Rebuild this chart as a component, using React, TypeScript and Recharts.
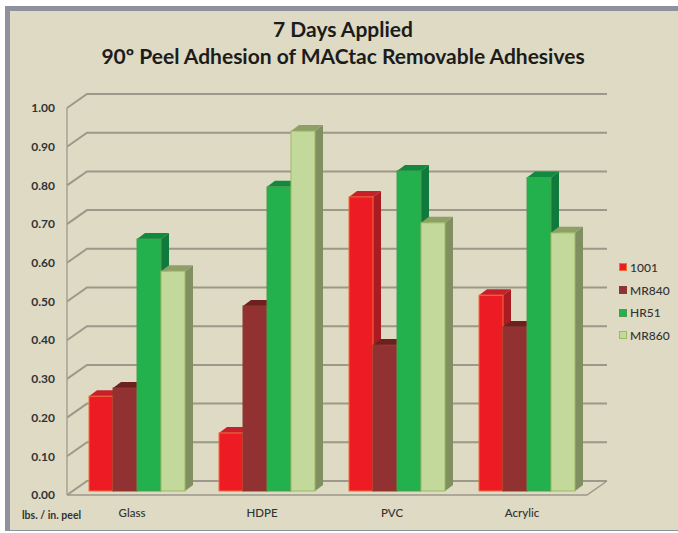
import React from "react";
import { BarChart, Bar, XAxis, YAxis, CartesianGrid, Legend } from "recharts";

const categories = ["Glass", "HDPE", "PVC", "Acrylic"];
const v1001 = [0.245, 0.15, 0.76, 0.506];
const vMR840 = [0.266, 0.478, 0.377, 0.424];
const vHR51 = [0.651, 0.786, 0.827, 0.81];
const vMR860 = [0.568, 0.93, 0.693, 0.667];
const yTicks = [0, 0.1, 0.2, 0.3, 0.4, 0.5, 0.6, 0.7, 0.8, 0.9, 1.0];
const titleLines = ["7 Days Applied", "90º Peel Adhesion of MACtac Removable Adhesives"];
const yUnit = "lbs. / in. peel";

const seriesDefs = [
  { key: "1001", values: v1001, front: "#ed1c24", top: "#c8202a", side: "#a81c22", edge: "#f0703c" },
  { key: "MR840", values: vMR840, front: "#923131", top: "#6e2020", side: "#6e2020", edge: "#8a3a30" },
  { key: "HR51", values: vHR51, front: "#22b14c", top: "#0f8a3e", side: "#0f7a3c", edge: "#4f9a50" },
  { key: "MR860", values: vMR860, front: "#c3d99b", top: "#8e9f68", side: "#7f8f60", edge: "#9cba62" },
];

const data = categories.map((name, i) => {
  const row: Record<string, any> = { name };
  seriesDefs.forEach((s) => (row[s.key] = s.values[i]));
  return row;
});

const DEPTH_X = 20;
const DEPTH_Y = 14;
const BAR_DX = 5;
const BAR_DY = -4;
const BAR_DEPTH_X = 8;
const BAR_DEPTH_Y = 6;
const FONT = "Lato, 'Open Sans', sans-serif";
const GRID = "#9c988a";
const BG = "#dedac3";

const Bar3D = (def: (typeof seriesDefs)[number]) => (props: any) => {
  const { x, y, width, height } = props;
  const l = x + BAR_DX;
  const t = y + BAR_DY;
  const r = l + width;
  const b = t + height;
  const dx = BAR_DEPTH_X;
  const dy = BAR_DEPTH_Y;
  return (
    <g>
      <polygon points={`${r},${t} ${r + dx},${t - dy} ${r + dx},${b - dy} ${r},${b}`} fill={def.side} />
      <polygon points={`${l},${t} ${l + dx},${t - dy} ${r + dx},${t - dy} ${r},${t}`} fill={def.top} />
      <rect x={l} y={t} width={width} height={height} fill={def.front} stroke={def.edge} strokeWidth={1} />
    </g>
  );
};

const GridLine = (props: any) => {
  const { x1, x2, y1 } = props;
  return (
    <g fill="none" stroke={GRID} strokeWidth={2} key={props.key}>
      <polyline points={`${x1},${y1} ${x1 + DEPTH_X},${y1 - DEPTH_Y} ${x2 + DEPTH_X},${y1 - DEPTH_Y}`} />
      {Math.abs(y1 - 495) < 1 ? <polyline strokeWidth={1.5} points={`${x1},${y1} ${x2},${y1} ${x2 + DEPTH_X},${y1 - DEPTH_Y}`} /> : null}
    </g>
  );
};

const LegendContent = () => (
  <div style={{ fontFamily: FONT, fontSize: 12, color: "#333", fontWeight: 500 }}>
    {seriesDefs.map((s) => (
      <div key={s.key} style={{ display: "flex", alignItems: "center", height: 22.7 }}>
        <span style={{ width: 8, height: 8, background: s.front, border: `1px solid ${s.edge}`, marginRight: 3, boxSizing: "border-box" }} />
        {s.key}
      </div>
    ))}
  </div>
);

export default function App() {
  return (
    <div style={{ position: "absolute", left: 0, top: 0, width: 678, height: 533, background: "#fff", overflow: "hidden" }}>
      <div style={{ position: "absolute", left: 5, top: 6, right: -4, bottom: 2, background: BG, borderLeft: "5px solid #8f919c", borderTop: "5px solid #8f919c", borderBottom: "1px solid #8f919c", boxSizing: "border-box" }} />
      <div style={{ position: "absolute", left: 0, width: 686, top: 15, textAlign: "center", fontFamily: FONT, fontWeight: 700, fontSize: 21, lineHeight: "27px", color: "#1c1c1c" }}>
        {titleLines.map((t) => (
          <div key={t}>{t}</div>
        ))}
      </div>
      <div style={{ position: "absolute", left: 22, top: 509, fontFamily: FONT, fontWeight: 700, fontSize: 10.5, color: "#333" }}>{yUnit}</div>
      <div style={{ position: "absolute", left: 0, top: 0 }}>
        <BarChart width={678} height={533} data={data} margin={{ top: 108, left: 17, right: 91, bottom: 0 }} barCategoryGap={17} barGap={0}>
          <CartesianGrid vertical={false} horizontal={GridLine as any} syncWithTicks />
          <XAxis dataKey="name" axisLine={false} tickLine={false} height={38} tickMargin={8} tick={{ fontFamily: FONT, fontSize: 11.5, fontWeight: 500, fill: "#333" }} />
          <YAxis
            domain={[0, 1]}
            ticks={yTicks}
            width={50}
            interval={0}
            tickFormatter={(v: number) => v.toFixed(2)}
            axisLine={{ stroke: "#a5a295", strokeWidth: 1.5 }}
            tickLine={false}
            tickMargin={6}
            tick={{ fontFamily: FONT, fontSize: 12, fontWeight: 700, fill: "#333" }}
          />
          <Legend layout="vertical" align="center" verticalAlign="middle" wrapperStyle={{ left: 619, top: 256, width: 59 }} content={<LegendContent />} />
          {seriesDefs.map((s) => (
            <Bar key={s.key} dataKey={s.key} fill={s.front} isAnimationActive={false} shape={Bar3D(s)} />
          ))}
        </BarChart>
      </div>
    </div>
  );
}
